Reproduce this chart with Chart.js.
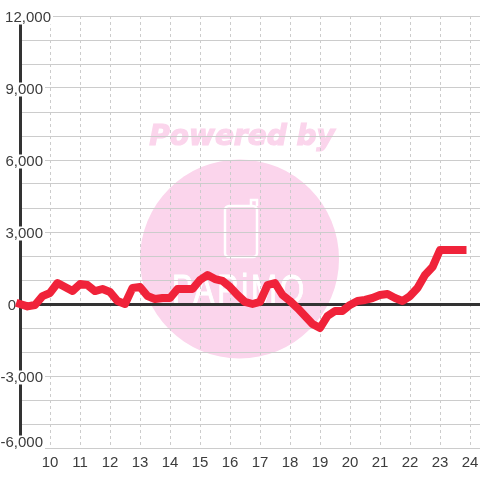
<!DOCTYPE html>
<html>
<head>
<meta charset="utf-8">
<style>
  html, body { margin: 0; padding: 0; background: #fff; }
  canvas { display: block; }
</style>
<script src="https://cdn.jsdelivr.net/npm/chart.js@4"></script>
</head>
<body>
<canvas id="chart" width="480" height="480"></canvas>
<script>
// hours of the day, one reading every 15 minutes
const hours = [
  9, 9.25, 9.5, 9.75, 10, 10.25, 10.5, 10.75, 11, 11.25, 11.5, 11.75,
  12, 12.25, 12.5, 12.75, 13, 13.25, 13.5, 13.75, 14, 14.25, 14.5, 14.75,
  15, 15.25, 15.5, 15.75, 16, 16.25, 16.5, 16.75, 17, 17.25, 17.5, 17.75,
  18, 18.25, 18.5, 18.75, 19, 19.25, 19.5, 19.75, 20, 20.25, 20.5, 20.75,
  21, 21.25, 21.5, 21.75, 22, 22.25, 22.5, 22.75, 23, 23.25, 23.5, 23.75
];
const values = [
  0, -100, -40, 330, 460, 875, 710, 540, 830, 790, 540, 625,
  500, 125, 0, 670, 710, 330, 210, 250, 250, 625, 625, 625,
  1000, 1210, 1040, 960, 710, 375, 85, 0, 85, 790, 875, 375,
  125, -170, -500, -830, -1000, -500, -290, -290, -40, 125, 170, 250,
  375, 415, 250, 125, 330, 670, 1210, 1540, 2250, 2250, 2250, 2250
];
const xTicks = [9, 10, 11, 12, 13, 14, 15, 16, 17, 18, 19, 20, 21, 22, 23, 24];
const yTicks = [-6000, -5000, -4000, -3000, -2000, -1000, 0, 1000, 2000, 3000, 4000, 5000, 6000, 7000, 8000, 9000, 10000, 11000, 12000];
const yLabelValues = [12000, 9000, 6000, 3000, 0, -3000, -6000];
const yLabels = ['12,000', '9,000', '6,000', '3,000', '0', '-3,000', '-6,000'];

const labelFont = '15px "Liberation Sans"';
const textColor = '#3c3c3c';
const gridColor = '#cccccc';
const axisColor = '#333333';

// pink logo behind the grid
const watermark = {
  id: 'watermark',
  beforeDraw(chart) {
    const c = chart.ctx;
    c.save();
    c.fillStyle = '#fbd5ec';
    c.strokeStyle = '#fbd5ec';
    c.beginPath();
    c.arc(239.5, 259, 99.5, 0, Math.PI * 2);
    c.fill();

    c.font = 'italic bold 28px "DejaVu Sans"';
    c.textAlign = 'center';
    c.textBaseline = 'alphabetic';
    c.lineWidth = 1.2;
    c.fillText('Powered by', 242, 145);
    c.strokeText('Powered by', 242, 145);

    c.strokeStyle = '#fff';
    c.lineWidth = 2.5;
    c.beginPath();
    c.roundRect(225, 206, 32, 51, 4);
    c.moveTo(251, 206);
    c.lineTo(251, 200);
    c.lineTo(257, 200);
    c.lineTo(257, 206);
    c.stroke();

    // squeezed wordmark under the phone
    c.fillStyle = '#fff';
    c.lineWidth = 1;
    c.font = '41px "Liberation Sans"';
    c.textAlign = 'left';
    c.translate(172, 303);
    c.scale(0.76, 1);
    c.letterSpacing = '4px';
    c.fillText('PAPiMO', 0, 0);
    c.strokeText('PAPiMO', 0, 0);
    c.restore();
  }
};

// y labels sit on a white patch over the axis, each at its own offset
const yLabelPlugin = {
  id: 'yLabels',
  beforeDatasetsDraw(chart) {
    const c = chart.ctx;
    const y = chart.scales.y;
    c.save();
    c.font = labelFont;
    c.textAlign = 'right';
    c.textBaseline = 'middle';
    yLabelValues.forEach((v, i) => {
      const text = yLabels[i];
      let right = 43;
      let py = y.getPixelForValue(v) + 1.5;
      if (v === 12000) right = 51;
      if (v === 0) right = 16;
      if (v === -6000) py -= 7;
      const w = c.measureText(text).width;
      c.fillStyle = '#fff';
      c.fillRect(right - w - 1, py - 7, w + 3, 14);
      c.fillStyle = textColor;
      c.fillText(text, right, py);
    });
    c.restore();
  }
};

new Chart(document.getElementById('chart'), {
  type: 'line',
  data: {
    labels: hours,
    datasets: [{
      data: values,
      borderColor: '#f0233a',
      borderWidth: 8,
      borderCapStyle: 'square',
      borderJoinStyle: 'round',
      pointRadius: 0,
      tension: 0,
      clip: false
    }]
  },
  options: {
    responsive: false,
    animation: false,
    layout: { padding: { left: 20, top: 16, right: 0, bottom: 0 } },
    plugins: { legend: { display: false }, tooltip: { enabled: false } },
    scales: {
      x: {
        type: 'linear',
        min: 9,
        max: 24.3333,
        afterBuildTicks: (s) => { s.ticks = xTicks.map((v) => ({ value: v })); },
        afterFit: (s) => { s.height = 32; s.paddingRight = 0; s.paddingLeft = 0; },
        grid: { color: gridColor, lineWidth: 1, drawTicks: false },
        border: { display: false, dash: [3, 3] },
        ticks: {
          autoSkip: false,
          maxRotation: 0,
          padding: 6,
          color: textColor,
          font: { family: 'Liberation Sans', size: 15 },
          callback: (v) => (v === 9 ? '' : v)
        }
      },
      y: {
        min: -6000,
        max: 12000,
        afterBuildTicks: (s) => { s.ticks = yTicks.map((v) => ({ value: v })); },
        afterFit: (s) => { s.width = 0; },
        grid: {
          color: (ctx) => (ctx.tick.value === 0 ? axisColor : gridColor),
          lineWidth: (ctx) => (ctx.tick.value === 0 ? 3 : 1),
          drawTicks: false
        },
        border: { color: axisColor, width: 3 },
        ticks: { display: false }
      }
    }
  },
  plugins: [watermark, yLabelPlugin]
});
</script>
</body>
</html>
